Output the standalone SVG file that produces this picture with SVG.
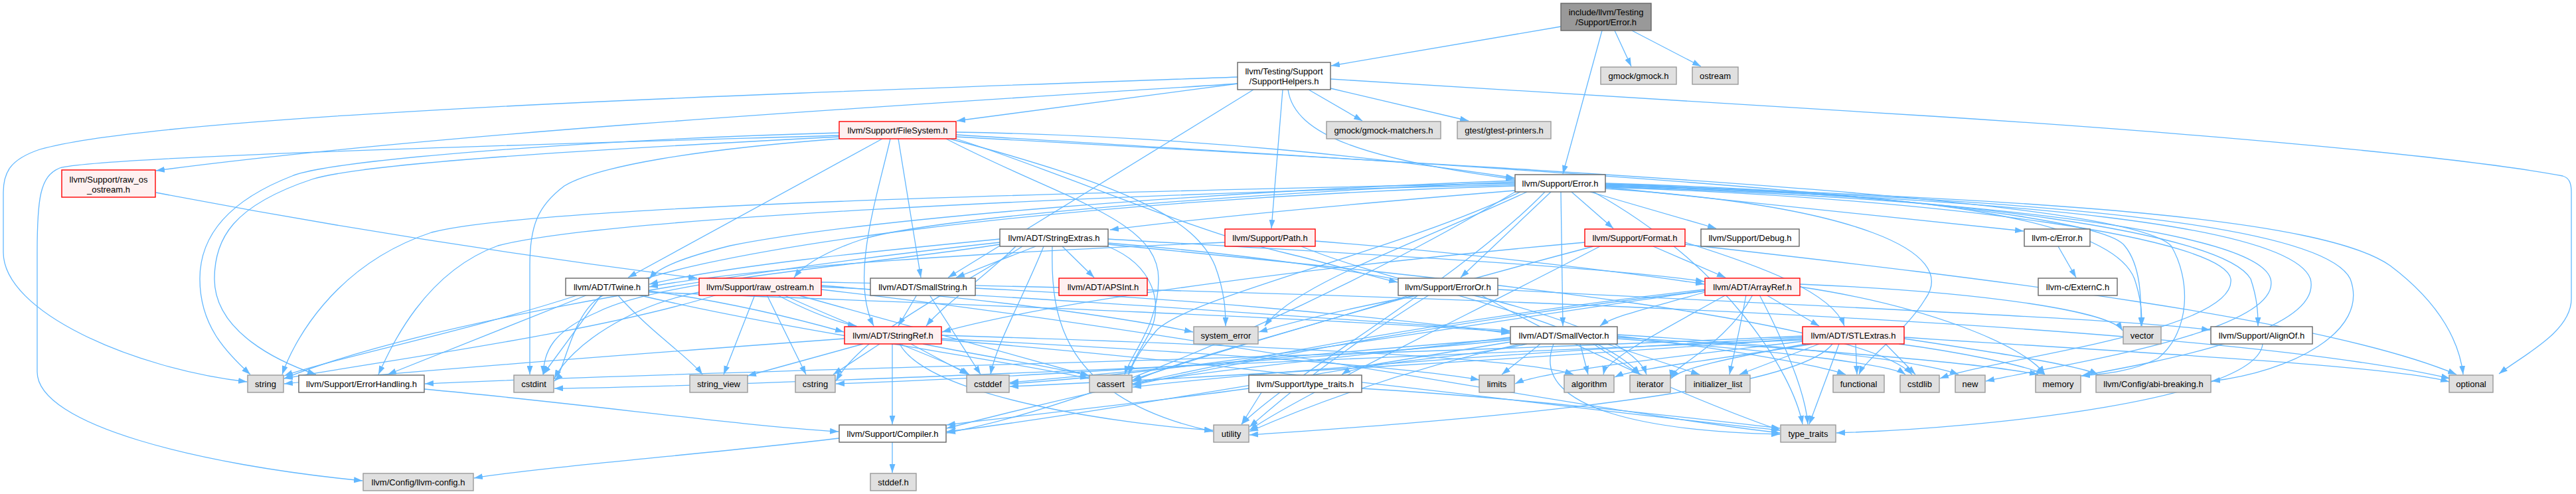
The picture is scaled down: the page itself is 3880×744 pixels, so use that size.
<svg xmlns="http://www.w3.org/2000/svg" width="3880" height="744" viewBox="0 0 3880 744">
<defs>
<marker id="a" viewBox="0 0 10 10" refX="10" refY="5" markerUnits="userSpaceOnUse" markerWidth="13" markerHeight="9" orient="auto" preserveAspectRatio="none"><path d="M0,0 L10,5 L0,10 z" fill="#63b8ff"/></marker>
<style>
.e path{fill:none;stroke:#63b8ff;stroke-width:1.3;marker-end:url(#a)}
rect{stroke-width:1.4}
.n rect{fill:#fff;stroke:#666}
.x rect{fill:#e0e0e0;stroke:#999}
.r rect{fill:#fff0f0;stroke:#f00}
.root rect{fill:#999;stroke:#666}
text{font-family:"Liberation Sans",Arial,sans-serif;font-size:13px;fill:#000;text-anchor:middle}
</style>
</defs>
<rect width="3880" height="744" fill="#fff"/>
<g id="edges" class="e">
<path d="M2351,40 L2005,99"/>
<path d="M2413,46 L2354,262"/>
<path d="M2432,46 L2457,100"/>
<path d="M2458,46 L2562,100"/>
<path d="M1864,126 C1500,150 700,195 235,257"/>
<path d="M1864,116 C1200,140 250,170 60,225 C15,240 5,260 5,290 L5,380 C5,470 200,555 372,575"/>
<path d="M1864,126 L1441,182"/>
<path d="M1888,135 L1428,418"/>
<path d="M1932,135 L1915,344"/>
<path d="M1971,135 L2052,182"/>
<path d="M2004,133 L2212,182"/>
<path d="M1940,135 C1950,205 2060,240 2281,270"/>
<path d="M2004,119 L2910,175 C3300,200 3700,235 3860,265 C3870,268 3873,276 3873,290 L3873,450 C3873,500 3800,535 3764,563"/>
<path d="M1329,209 L946,418"/>
<path d="M1353,209 L1387,418"/>
<path d="M1264,204 C900,215 150,235 90,253 C60,265 56,300 56,380 L56,560 C56,640 300,700 546,724"/>
<path d="M1264,200 C900,210 500,240 440,265 C350,300 301,350 301,420 C301,490 340,530 377,564"/>
<path d="M1264,206 C900,225 550,245 470,270 C350,310 323,360 323,420 C323,500 420,545 476,564"/>
<path d="M1264,209 C1050,225 900,250 850,280 C810,310 798,340 798,400 C798,480 798,520 798,564"/>
<path d="M1425,209 C1600,300 1745,330 1745,420 C1745,490 1705,530 1694,564"/>
<path d="M1341,209 C1320,300 1280,420 1316,491"/>
<path d="M1440,199 C1800,205 2100,240 2281,268"/>
<path d="M1440,203 C2200,250 3150,300 3200,370 C3225,400 3225,450 3225,491"/>
<path d="M1440,206 C2400,260 3200,300 3270,370 C3300,420 3300,500 3250,540 C3210,560 3170,563 3135,566"/>
<path d="M1440,209 C1600,260 1800,350 1940,382 C2000,396 2060,415 2105,425"/>
<path d="M1430,209 C1700,280 1800,330 1830,400 C1845,440 1846,470 1846,491"/>
<path d="M2418,282 L3048,348"/>
<path d="M2351,289 L2354,491"/>
<path d="M2282,287 C2000,310 1800,330 1672,346"/>
<path d="M2282,272 C1800,290 1300,330 1100,370 C1020,390 990,405 978,420"/>
<path d="M2418,279 C3100,300 3500,340 3540,420 C3570,500 3450,560 3331,574"/>
<path d="M2418,277 C2950,295 3350,350 3390,420 C3400,450 3401,470 3401,491"/>
<path d="M2282,289 C2100,400 1700,600 1426,652"/>
<path d="M2395,289 L2585,344"/>
<path d="M2282,278 C1600,295 900,330 750,370 C640,410 590,520 570,564"/>
<path d="M2336,289 L2200,418"/>
<path d="M2367,289 L2430,344"/>
<path d="M2282,274 C1800,295 1400,330 1300,360 C1240,380 1210,400 1196,418"/>
<path d="M2290,289 C2100,380 1780,450 1740,500 C1715,530 1705,550 1700,564"/>
<path d="M2282,280 C1600,300 1000,380 900,450 C860,480 850,560 835,574"/>
<path d="M2418,282 C2950,300 3350,360 3360,420 C3370,500 3000,540 2922,570"/>
<path d="M2418,284 C2800,310 2950,380 2900,450 C2870,500 2810,540 2800,564"/>
<path d="M2418,280 C3050,300 3450,340 3480,420 C3500,500 3250,545 3135,566"/>
<path d="M2418,281 C3000,300 3400,350 3420,420 C3440,500 3100,550 2991,574"/>
<path d="M2418,278 C3100,300 3500,330 3600,400 C3680,460 3705,520 3710,564"/>
<path d="M2282,276 C1600,290 800,310 650,350 C500,400 440,520 425,564"/>
<path d="M2300,289 C2100,380 1950,430 1905,491"/>
<path d="M2400,289 C2600,400 2700,560 2715,639"/>
<path d="M2327,289 C2200,420 1950,560 1870,639"/>
<path d="M2418,276 C2900,290 3180,330 3215,420 C3225,450 3226,470 3226,491"/>
<path d="M1600,371 L1648,418"/>
<path d="M1669,360 C2000,380 2400,400 2567,424"/>
<path d="M1560,371 L1440,418"/>
<path d="M1530,371 C1480,420 1420,460 1395,491"/>
<path d="M1506,360 C1300,380 1100,400 978,428"/>
<path d="M1668,371 C1740,400 1752,460 1732,500 C1716,530 1705,545 1700,564"/>
<path d="M1572,371 C1540,450 1500,520 1492,564"/>
<path d="M1506,368 C1300,400 1000,420 900,470 C830,500 820,530 818,564"/>
<path d="M1669,368 C2200,420 2800,480 2880,564"/>
<path d="M1540,371 C1450,430 1300,500 1259,574"/>
<path d="M1669,366 C2100,400 2450,480 2480,564"/>
<path d="M1506,365 C1000,420 600,500 428,570"/>
<path d="M1585,371 C1582,480 1600,600 1827,650"/>
<path d="M1981,363 C2200,380 2450,410 2567,428"/>
<path d="M1845,365 C1500,380 1150,400 978,432"/>
<path d="M1960,371 C2100,430 2400,480 2470,564"/>
<path d="M2490,371 L2599,418"/>
<path d="M2538,365 C2650,400 2760,440 2778,491"/>
<path d="M2387,365 C2000,400 1600,450 1419,500"/>
<path d="M2400,371 C2100,450 1800,540 1706,572"/>
<path d="M2538,368 C3000,420 3500,480 3700,564"/>
<path d="M2410,371 C2200,480 1950,600 1882,648"/>
<path d="M3100,371 L3127,418"/>
<path d="M977,440 C1500,460 2000,480 2274,500"/>
<path d="M977,438 C1100,455 1200,480 1271,500"/>
<path d="M885,444 L584,564"/>
<path d="M960,444 C1200,500 1500,540 1640,570"/>
<path d="M906,444 L818,564"/>
<path d="M872,444 C700,500 500,540 428,566"/>
<path d="M930,444 C980,500 1040,540 1058,564"/>
<path d="M1237,432 C1600,450 2000,480 2274,498"/>
<path d="M1170,444 C1220,470 1260,485 1290,491"/>
<path d="M1200,444 C1400,500 1550,540 1640,566"/>
<path d="M1180,444 C1300,500 1420,540 1460,564"/>
<path d="M1053,440 C950,460 860,520 835,570"/>
<path d="M1155,444 L1214,564"/>
<path d="M1237,425 C2000,440 3300,480 3690,570"/>
<path d="M1080,444 C900,500 600,540 428,570"/>
<path d="M1137,444 L1090,564"/>
<path d="M1237,430 C1500,450 1700,480 1797,500"/>
<path d="M1237,436 C1800,500 2400,620 2681,652"/>
<path d="M1469,434 C1800,450 2100,480 2274,502"/>
<path d="M1381,444 L1353,491"/>
<path d="M1400,444 L1477,564"/>
<path d="M235,290 C600,360 900,400 1050,419"/>
<path d="M2256,436 C2700,460 3200,480 3329,497"/>
<path d="M2125,444 C1950,500 1780,540 1706,575"/>
<path d="M2140,444 C2000,470 1930,490 1896,500"/>
<path d="M2230,444 C2400,540 2600,620 2681,648"/>
<path d="M2153,444 C2000,540 1920,610 1882,643"/>
<path d="M2568,440 C2500,460 2430,475 2410,491"/>
<path d="M2660,444 L2740,491"/>
<path d="M2568,436 C2000,500 1600,600 1426,645"/>
<path d="M2600,444 C2500,500 2420,540 2415,564"/>
<path d="M2568,438 C2200,480 1900,540 1706,580"/>
<path d="M2568,438 C2200,490 1800,560 1521,578"/>
<path d="M2630,444 C2620,500 2610,540 2605,564"/>
<path d="M2640,444 C2600,520 2520,550 2516,570"/>
<path d="M2711,432 C2900,460 3050,520 3080,564"/>
<path d="M2650,444 C2700,540 2720,600 2723,639"/>
<path d="M2711,428 C3000,440 3180,470 3197,498"/>
<path d="M1344,518 L1344,639"/>
<path d="M1418,505 C1900,520 2300,540 2370,564"/>
<path d="M1390,518 C1500,540 1600,555 1641,566"/>
<path d="M1372,518 L1458,564"/>
<path d="M1325,518 L1255,564"/>
<path d="M1418,510 C1800,530 2100,550 2228,572"/>
<path d="M1272,510 C1000,530 600,560 428,578"/>
<path d="M1300,518 L1126,566"/>
<path d="M1418,512 C1800,540 2400,620 2681,648"/>
<path d="M1355,518 C1400,600 1700,640 1827,648"/>
<path d="M2275,515 C2000,560 1600,630 1426,650"/>
<path d="M2300,518 C2200,540 2050,545 2021,564"/>
<path d="M2380,518 L2392,564"/>
<path d="M2275,508 C2100,530 1800,560 1706,578"/>
<path d="M2275,510 C2000,530 1700,560 1521,576"/>
<path d="M2436,510 C2700,530 2850,550 2870,564"/>
<path d="M2275,512 C2000,540 1500,570 1259,578"/>
<path d="M2436,506 C2600,525 2740,550 2780,564"/>
<path d="M2420,518 L2560,564"/>
<path d="M2400,518 L2470,564"/>
<path d="M2320,518 L2262,564"/>
<path d="M2436,508 C2800,530 3000,550 3070,564"/>
<path d="M2436,504 C2700,520 2900,545 2950,564"/>
<path d="M2340,518 C2300,620 2500,650 2681,654"/>
<path d="M2290,518 C2100,560 1950,620 1882,650"/>
<path d="M2868,510 C3000,530 3130,550 3160,564"/>
<path d="M2715,506 C2000,540 1000,560 640,578"/>
<path d="M2730,518 C2600,540 2460,555 2432,568"/>
<path d="M2715,508 C2300,530 1900,560 1706,583"/>
<path d="M2715,510 C2300,540 1800,570 1521,582"/>
<path d="M2715,512 C2000,540 1200,580 835,585"/>
<path d="M2840,518 L2885,564"/>
<path d="M2795,518 L2797,564"/>
<path d="M2740,518 L2620,564"/>
<path d="M2720,518 C2600,540 2530,555 2517,570"/>
<path d="M2715,514 C2500,540 2320,560 2282,578"/>
<path d="M2860,518 C2950,530 3050,550 3080,564"/>
<path d="M2868,508 C3200,530 3600,550 3689,575"/>
<path d="M2770,518 L2725,639"/>
<path d="M2760,518 C2700,600 2100,640 1882,655"/>
<path d="M3408,518 C3400,600 3000,645 2766,652"/>
<path d="M639,586 C900,610 1100,640 1263,650"/>
<path d="M1881,585 C1700,610 1500,630 1426,640"/>
<path d="M1900,591 L1870,639"/>
<path d="M2051,585 C2300,600 2550,630 2681,645"/>
<path d="M1344,665 L1344,712"/>
<path d="M1264,660 C1100,680 800,705 714,720"/>
</g>
<g id="n1" class="root"><rect x="2351" y="5" width="136" height="41"/><text x="2419" y="23">include/llvm/Testing</text><text x="2419" y="38">/Support/Error.h</text></g>
<g id="n2" class="n"><rect x="1864" y="94" width="140" height="41"/><text x="1934" y="112">llvm/Testing/Support</text><text x="1934" y="127">/SupportHelpers.h</text></g>
<g id="n3" class="x"><rect x="2411" y="101" width="114" height="26"/><text x="2468" y="118.5">gmock/gmock.h</text></g>
<g id="n4" class="x"><rect x="2549" y="101" width="69" height="26"/><text x="2583.5" y="118.5">ostream</text></g>
<g id="n5" class="r"><rect x="1264" y="183" width="176" height="26"/><text x="1352" y="200.5">llvm/Support/FileSystem.h</text></g>
<g id="n6" class="x"><rect x="1998" y="183" width="172" height="26"/><text x="2084" y="200.5">gmock/gmock-matchers.h</text></g>
<g id="n7" class="x"><rect x="2195" y="183" width="141" height="26"/><text x="2265.5" y="200.5">gtest/gtest-printers.h</text></g>
<g id="n8" class="r"><rect x="93" y="256" width="141" height="41"/><text x="163.5" y="274.5">llvm/Support/raw_os</text><text x="163.5" y="289.5">_ostream.h</text></g>
<g id="n9" class="n"><rect x="2282" y="263" width="136" height="26"/><text x="2350" y="280.5">llvm/Support/Error.h</text></g>
<g id="n10" class="n"><rect x="1506" y="345" width="163" height="26"/><text x="1587.5" y="362.5">llvm/ADT/StringExtras.h</text></g>
<g id="n11" class="r"><rect x="1845" y="345" width="136" height="26"/><text x="1913" y="362.5">llvm/Support/Path.h</text></g>
<g id="n12" class="r"><rect x="2387" y="345" width="151" height="26"/><text x="2462.5" y="362.5">llvm/Support/Format.h</text></g>
<g id="n13" class="n"><rect x="2562" y="345" width="148" height="26"/><text x="2636" y="362.5">llvm/Support/Debug.h</text></g>
<g id="n14" class="n"><rect x="3049" y="345" width="99" height="26"/><text x="3098.5" y="362.5">llvm-c/Error.h</text></g>
<g id="n15" class="n"><rect x="852" y="419" width="125" height="26"/><text x="914.5" y="436.5">llvm/ADT/Twine.h</text></g>
<g id="n16" class="r"><rect x="1053" y="419" width="184" height="26"/><text x="1145" y="436.5">llvm/Support/raw_ostream.h</text></g>
<g id="n17" class="n"><rect x="1311" y="419" width="158" height="26"/><text x="1390" y="436.5">llvm/ADT/SmallString.h</text></g>
<g id="n18" class="r"><rect x="1595" y="419" width="133" height="26"/><text x="1661.5" y="436.5">llvm/ADT/APSInt.h</text></g>
<g id="n19" class="n"><rect x="2106" y="419" width="150" height="26"/><text x="2181" y="436.5">llvm/Support/ErrorOr.h</text></g>
<g id="n20" class="r"><rect x="2568" y="419" width="143" height="26"/><text x="2639.5" y="436.5">llvm/ADT/ArrayRef.h</text></g>
<g id="n21" class="n"><rect x="3070" y="419" width="119" height="26"/><text x="3129.5" y="436.5">llvm-c/ExternC.h</text></g>
<g id="n22" class="r"><rect x="1272" y="492" width="146" height="26"/><text x="1345" y="509.5">llvm/ADT/StringRef.h</text></g>
<g id="n23" class="x"><rect x="1798" y="492" width="97" height="26"/><text x="1846.5" y="509.5">system_error</text></g>
<g id="n24" class="n"><rect x="2275" y="492" width="161" height="26"/><text x="2355.5" y="509.5">llvm/ADT/SmallVector.h</text></g>
<g id="n25" class="r"><rect x="2715" y="492" width="153" height="26"/><text x="2791.5" y="509.5">llvm/ADT/STLExtras.h</text></g>
<g id="n26" class="x"><rect x="3198" y="492" width="57" height="26"/><text x="3226.5" y="509.5">vector</text></g>
<g id="n27" class="n"><rect x="3330" y="492" width="153" height="26"/><text x="3406.5" y="509.5">llvm/Support/AlignOf.h</text></g>
<g id="n28" class="x"><rect x="373" y="565" width="54" height="26"/><text x="400" y="582.5">string</text></g>
<g id="n29" class="n"><rect x="450" y="565" width="189" height="26"/><text x="544.5" y="582.5">llvm/Support/ErrorHandling.h</text></g>
<g id="n30" class="x"><rect x="774" y="565" width="60" height="26"/><text x="804" y="582.5">cstdint</text></g>
<g id="n31" class="x"><rect x="1039" y="565" width="87" height="26"/><text x="1082.5" y="582.5">string_view</text></g>
<g id="n32" class="x"><rect x="1198" y="565" width="60" height="26"/><text x="1228" y="582.5">cstring</text></g>
<g id="n33" class="x"><rect x="1456" y="565" width="64" height="26"/><text x="1488" y="582.5">cstddef</text></g>
<g id="n34" class="x"><rect x="1641" y="565" width="64" height="26"/><text x="1673" y="582.5">cassert</text></g>
<g id="n35" class="n"><rect x="1881" y="565" width="170" height="26"/><text x="1966" y="582.5">llvm/Support/type_traits.h</text></g>
<g id="n36" class="x"><rect x="2228" y="565" width="53" height="26"/><text x="2254.5" y="582.5">limits</text></g>
<g id="n37" class="x"><rect x="2356" y="565" width="75" height="26"/><text x="2393.5" y="582.5">algorithm</text></g>
<g id="n38" class="x"><rect x="2455" y="565" width="61" height="26"/><text x="2485.5" y="582.5">iterator</text></g>
<g id="n39" class="x"><rect x="2539" y="565" width="97" height="26"/><text x="2587.5" y="582.5">initializer_list</text></g>
<g id="n40" class="x"><rect x="2761" y="565" width="77" height="26"/><text x="2799.5" y="582.5">functional</text></g>
<g id="n41" class="x"><rect x="2862" y="565" width="59" height="26"/><text x="2891.5" y="582.5">cstdlib</text></g>
<g id="n42" class="x"><rect x="2945" y="565" width="45" height="26"/><text x="2967.5" y="582.5">new</text></g>
<g id="n43" class="x"><rect x="3066" y="565" width="68" height="26"/><text x="3100" y="582.5">memory</text></g>
<g id="n44" class="x"><rect x="3157" y="565" width="173" height="26"/><text x="3243.5" y="582.5">llvm/Config/abi-breaking.h</text></g>
<g id="n45" class="x"><rect x="3689" y="565" width="66" height="26"/><text x="3722" y="582.5">optional</text></g>
<g id="n46" class="n"><rect x="1264" y="640" width="161" height="26"/><text x="1344.5" y="657.5">llvm/Support/Compiler.h</text></g>
<g id="n47" class="x"><rect x="1828" y="640" width="53" height="26"/><text x="1854.5" y="657.5">utility</text></g>
<g id="n48" class="x"><rect x="2682" y="640" width="83" height="26"/><text x="2723.5" y="657.5">type_traits</text></g>
<g id="n49" class="x"><rect x="547" y="713" width="166" height="26"/><text x="630" y="730.5">llvm/Config/llvm-config.h</text></g>
<g id="n50" class="x"><rect x="1311" y="713" width="69" height="26"/><text x="1345.5" y="730.5">stddef.h</text></g>
</svg>
